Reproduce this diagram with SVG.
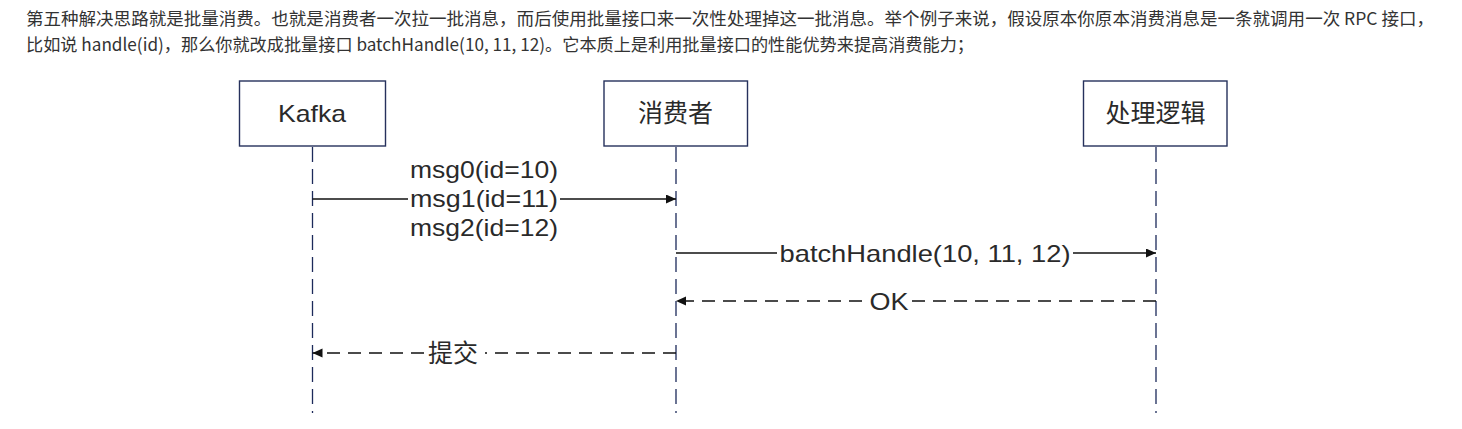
<svg xmlns="http://www.w3.org/2000/svg" width="1462" height="429" viewBox="0 0 1462 429">
<style>
.para{font-family:"Noto Sans CJK SC","Microsoft YaHei",sans-serif;font-size:17.6px;fill:#333}
.box{fill:#fff;stroke:#26315c;stroke-width:1.4}
.lbl{font-family:"Liberation Sans",Arial,"Noto Sans CJK SC",sans-serif;font-size:24px;fill:#2a2a2a;text-anchor:middle}
.cjk{font-family:"Noto Sans CJK SC",sans-serif;font-size:25px;fill:#2a2a2a;text-anchor:middle}
.life{stroke:#1c2a5a;stroke-width:1.3;stroke-dasharray:15 7;fill:none}
.msg{stroke:#111;stroke-width:1.3;fill:none}
.ret{stroke:#111;stroke-width:1.3;fill:none;stroke-dasharray:13 8}
.bg{fill:#fff}
</style>
<defs>
<marker id="arr" markerUnits="userSpaceOnUse" markerWidth="11" markerHeight="10" refX="10" refY="4.5" orient="auto">
<path d="M0,0 L10,4.5 L0,9 z" fill="#111"/>
</marker>
</defs>
<rect width="1462" height="429" fill="#fff"/>
<g id="paragraph">
<text class="para" x="26" y="25" textLength="1408" lengthAdjust="spacingAndGlyphs">第五种解决思路就是批量消费。也就是消费者一次拉一批消息，而后使用批量接口来一次性处理掉这一批消息。举个例子来说，假设原本你原本消费消息是一条就调用一次 RPC 接口，</text>
<text class="para" x="26" y="51" textLength="948" lengthAdjust="spacingAndGlyphs">比如说 handle(id)，那么你就改成批量接口 batchHandle(10, 11, 12)。它本质上是利用批量接口的性能优势来提高消费能力；</text>
</g>
<g id="lifelines">
<line class="life" x1="312.5" y1="147" x2="312.5" y2="413"/>
<line class="life" x1="676" y1="147" x2="676" y2="413"/>
<line class="life" x1="1156" y1="147" x2="1156" y2="413"/>
</g>
<g id="node-kafka">
<rect class="box" x="239.5" y="81" width="146" height="65"/>
<text class="lbl" x="312" y="122" textLength="68" lengthAdjust="spacingAndGlyphs">Kafka</text>
</g>
<g id="node-consumer">
<rect class="box" x="604" y="81" width="143.5" height="65"/>
<text class="cjk" x="675.5" y="122">消费者</text>
</g>
<g id="node-handler">
<rect class="box" x="1083.5" y="81" width="143.5" height="65"/>
<text class="cjk" x="1155.5" y="122">处理逻辑</text>
</g>
<g id="connectors">
<g id="c-msgs">
<line class="msg" x1="312.5" y1="199" x2="676" y2="199" marker-end="url(#arr)"/>
<rect class="bg" x="408" y="188" width="152" height="22"/>
<text class="lbl" x="484" y="178" textLength="148" lengthAdjust="spacingAndGlyphs">msg0(id=10)</text>
<text class="lbl" x="484" y="207" textLength="148" lengthAdjust="spacingAndGlyphs">msg1(id=11)</text>
<text class="lbl" x="484" y="236" textLength="148" lengthAdjust="spacingAndGlyphs">msg2(id=12)</text>
</g>
<g id="c-batch">
<line class="msg" x1="676" y1="253" x2="1156" y2="253" marker-end="url(#arr)"/>
<rect class="bg" x="777" y="243" width="296" height="20"/>
<text class="lbl" x="925" y="261.5" textLength="291" lengthAdjust="spacingAndGlyphs">batchHandle(10, 11, 12)</text>
</g>
<g id="c-ok">
<line class="ret" x1="1156" y1="301" x2="676" y2="301" marker-end="url(#arr)"/>
<rect class="bg" x="867" y="291" width="44" height="20"/>
<text class="lbl" x="889" y="309.5" textLength="39" lengthAdjust="spacingAndGlyphs">OK</text>
</g>
<g id="c-commit">
<line class="ret" x1="676" y1="353" x2="312.5" y2="353" marker-end="url(#arr)"/>
<rect class="bg" x="425" y="342" width="60" height="22"/>
<text class="cjk" x="453" y="362">提交</text>
</g>
</g>
</svg>
